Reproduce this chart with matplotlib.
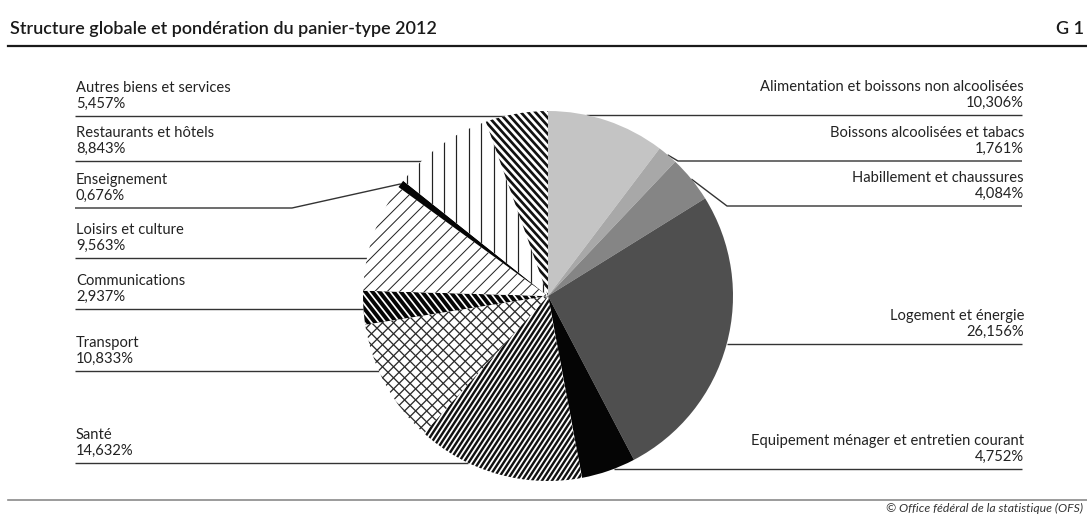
import numpy as np
import matplotlib
matplotlib.use("Agg")
import matplotlib.pyplot as plt
from matplotlib.collections import LineCollection

# ---------------- data ----------------
categories = [
    "Alimentation et boissons non alcoolisées",
    "Boissons alcoolisées et tabacs",
    "Habillement et chaussures",
    "Logement et énergie",
    "Equipement ménager et entretien courant",
    "Santé",
    "Transport",
    "Communications",
    "Loisirs et culture",
    "Enseignement",
    "Restaurants et hôtels",
    "Autres biens et services",
]
weights = [10.306, 1.761, 4.084, 26.156, 4.752, 14.632,
           10.833, 2.937, 9.563, 0.676, 8.843, 5.457]
value_labels = [f"{v:.3f}".replace(".", ",") + "%" for v in weights]

title = "Structure globale et pondération du panier-type 2012"
chart_id = "G 1"
source = "© Office fédéral de la statistique (OFS)"

# ---------------- style / layout ----------------
W, H = 1087, 516
DPI = 100
FONT = ["Lato", "DejaVu Sans"]
TXT = "#222222"
LINE = "#333333"

def Y(py):  # pixel-from-top -> data y (y up)
    return H - py

CX, CY, R = 548, Y(296), 185

# face colors and hatch specs: (angle deg, spacing px, line width px, color)
faces = ["#c4c4c4", "#a8a8a8", "#858585", "#4f4f4f", "#050505", "white",
         "white", "#050505", "white", "#050505", "white", "white"]
hatches = [
    [], [], [], [], [],
    [(57, 4.2, 2.4, "#111111")],                          # Santé
    [(45, 7.8, 1.3, "#2a2a2a"), (-45, 7.8, 1.3, "#2a2a2a")],  # Transport
    [(-52, 5.6, 1.7, "white")],                           # Communications
    [(45, 8.8, 1.0, "#222222")],                          # Loisirs
    [],
    [(90, 12.4, 1.2, "#222222")],                         # Restaurants
    [(-48, 5.4, 2.7, "#111111")],                         # Autres
]

# label layout: side, underline y (px from top), elbow x (or None)
layout = [
    ("R", 115, None), ("R", 161, 678), ("R", 206, 727), ("R", 344, None),
    ("R", 469, None), ("L", 463, None), ("L", 371, None), ("L", 309, None),
    ("L", 258, None), ("L", 208, 292), ("L", 161, None), ("L", 116, None),
]
LX_TEXT, LX_LINE = 76, 75
RX_TEXT, RX_LINE = 1024, 1022
FS = 10.6

fig = plt.figure(figsize=(W / DPI, H / DPI), dpi=DPI)
ax = fig.add_axes([0, 0, 1, 1])

wedges, _ = ax.pie(weights, colors=faces, startangle=90, counterclock=False,
                   center=(CX, CY), radius=R,
                   wedgeprops=dict(linewidth=0, antialiased=True))
for w in wedges:
    w.set_zorder(2)

# manual hatching clipped to each wedge
for w, specs in zip(wedges, hatches):
    for ang, sp, lw, col in specs:
        t = np.radians(ang)
        d = np.array([np.cos(t), np.sin(t)])
        n = np.array([-np.sin(t), np.cos(t)])
        offs = np.arange(-R - sp, R + sp, sp) + sp * 0.3
        L = 2 * R
        segs = [[(CX + o * n[0] - L * d[0], CY + o * n[1] - L * d[1]),
                 (CX + o * n[0] + L * d[0], CY + o * n[1] + L * d[1])] for o in offs]
        lc = LineCollection(segs, colors=col, linewidths=lw * 72 / DPI, zorder=3,
                            capstyle="butt")
        lc.set_clip_path(w)
        ax.add_collection(lc)

# labels + leader lines
cum = np.cumsum([0] + weights[:-1])
total = sum(weights)
for i, (cat, vl) in enumerate(zip(categories, value_labels)):
    side, uy, elbow = layout[i]
    mid = (cum[i] + weights[i] / 2) / total * 360.0  # clockwise from top
    mx = CX + R * np.sin(np.radians(mid))
    my = CY + R * np.cos(np.radians(mid))
    yy = Y(uy)
    dy = yy - CY
    dx = np.sqrt(max(R * R - dy * dy, 0))
    if side == "L":
        tx, ha, lx0 = LX_TEXT, "left", LX_LINE
        if elbow is None:
            xs, ys = [lx0, CX - dx], [yy, yy]
        else:
            xs, ys = [lx0, elbow, mx], [yy, yy, my]
    else:
        tx, ha, lx0 = RX_TEXT, "right", RX_LINE
        if elbow is None:
            xs, ys = [lx0, CX + dx], [yy, yy]
        else:
            xs, ys = [lx0, elbow, mx], [yy, yy, my]
    ax.plot(xs, ys, color=LINE, lw=1.0, zorder=1, solid_capstyle="butt")
    ax.text(tx, Y(uy - 24), cat, ha=ha, va="baseline", fontsize=FS,
            color=TXT, family=FONT)
    ax.text(tx, Y(uy - 8), vl, ha=ha, va="baseline", fontsize=FS,
            color=TXT, family=FONT)

# title, id, rules, source
ax.text(10, Y(34), title, ha="left", va="baseline", fontsize=13,
        color="#1a1a1a", family=FONT, fontweight="semibold")
ax.text(1084, Y(34), chart_id, ha="right", va="baseline", fontsize=13,
        color="#1a1a1a", family=FONT, fontweight="semibold")
ax.plot([8, W], [Y(46), Y(46)], color="#1a1a1a", lw=1.6, zorder=1)
ax.plot([8, W], [Y(500), Y(500)], color="#8a8a8a", lw=1.2, zorder=1)
ax.text(1083, Y(514), source, ha="right", va="bottom", fontsize=8.8,
        color="#333333", family=FONT, style="italic")

ax.set_xlim(0, W)
ax.set_ylim(0, H)
ax.set_aspect("auto")
ax.axis("off")

fig.savefig("out.png", dpi=DPI, facecolor="white")
